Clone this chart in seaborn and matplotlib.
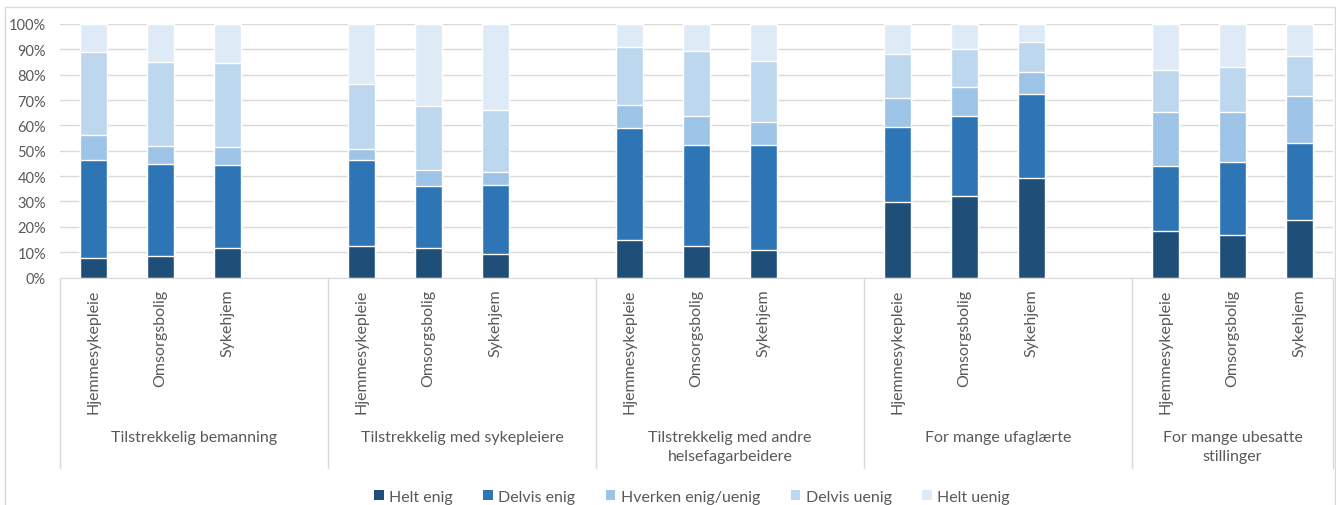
import matplotlib
matplotlib.use("Agg")
import matplotlib.pyplot as plt
import matplotlib.transforms as mtransforms
from matplotlib.patches import Patch, Rectangle
import seaborn as sns
import pandas as pd
import numpy as np

# Data (percent)
groups = ["Tilstrekkelig bemanning", "Tilstrekkelig med sykepleiere",
          "Tilstrekkelig med andre\nhelsefagarbeidere", "For mange ufaglærte",
          "For mange ubesatte\nstillinger"]
services = ["Hjemmesykepleie", "Omsorgsbolig", "Sykehjem"]
responses = ["Helt enig", "Delvis enig", "Hverken enig/uenig", "Delvis uenig", "Helt uenig"]

helt_enig = [7.5, 8.3, 11.8, 12.4, 11.6, 9.1, 14.6, 12.4, 10.8, 29.8, 32.2, 39.3, 18.2, 16.7, 22.5]
delvis_enig = [38.8, 36.6, 32.4, 33.9, 24.4, 27.2, 44.2, 39.7, 41.3, 29.7, 31.6, 32.9, 25.7, 28.8, 30.4]
hverken = [9.9, 6.9, 7.4, 4.3, 6.6, 5.2, 9.3, 11.7, 9.1, 11.3, 11.5, 9.0, 21.2, 19.6, 18.8]
delvis_uenig = [32.6, 33.2, 33.1, 25.7, 25.0, 24.5, 22.9, 25.7, 24.1, 17.4, 14.8, 11.6, 16.7, 17.8, 15.5]
helt_uenig = [11.2, 15.0, 15.3, 23.7, 32.4, 34.0, 9.0, 10.5, 14.7, 11.8, 9.9, 7.2, 18.2, 17.1, 12.8]

colors = ["#1f4e79", "#2e75b6", "#9dc3e6", "#bdd7ee", "#deebf7"]
text_color = "#595959"
line_color = "#d9d9d9"

# Build dataframe with cumulative values for stacking
keys = [f"{g}|{s}" for g in range(len(groups)) for s in services]
vals = np.array([helt_enig, delvis_enig, hverken, delvis_uenig, helt_uenig])
vals = vals / vals.sum(axis=0) * 100
cum = np.cumsum(vals, axis=0)
df = pd.DataFrame({"key": keys})
for i, r in enumerate(responses):
    df[r] = cum[i]

# order with an empty slot between groups (none after the last one)
order = []
tick_labels = []
for g in range(len(groups)):
    for s in services:
        order.append(f"{g}|{s}")
        tick_labels.append(s)
    if g < len(groups) - 1:
        order.append(f"{g}|")
        tick_labels.append("")

sns.set_style("white")
plt.rcParams["font.family"] = ["Lato", "DejaVu Sans"]

fig = plt.figure(figsize=(13.36, 5.06), dpi=100)
ax = fig.add_axes([60 / 1336, 1 - 278.5 / 506, 1273 / 1336, 253.5 / 506])

# draw from the top of the stack down so lower segments sit on top
for i in range(len(responses) - 1, -1, -1):
    sns.barplot(data=df, x="key", y=responses[i], order=order, color=colors[i],
                width=0.4, saturation=1, ax=ax, zorder=2)

ax.set_ylim(0, 100)
ax.set_xlim(-0.5, len(order) - 0.5)
ax.set_yticks(range(0, 101, 10))
ax.set_yticklabels([f"{v}%" for v in range(0, 101, 10)])
ax.yaxis.grid(True, color=line_color, lw=1, zorder=0)
ax.set_axisbelow(True)
ax.set_xlabel("")
ax.set_ylabel("")
for sp in ["top", "right", "left"]:
    ax.spines[sp].set_visible(False)
ax.spines["bottom"].set_color(line_color)
ax.tick_params(axis="y", length=0, pad=10, labelsize=10.5, labelcolor=text_color)
ax.set_xticks(range(len(order)))
ax.set_xticklabels(tick_labels, rotation=90, fontsize=11.5, color=text_color)
ax.tick_params(axis="x", length=0, pad=8)

# group separators and labels below the axis
trans = mtransforms.blended_transform_factory(ax.transData, ax.transAxes)
sep_bottom = -(469 - 278.5) / 253.5
bounds = [4 * g - 0.5 for g in range(len(groups))] + [len(order) - 0.5]
for b in bounds:
    ax.plot([b, b], [0, sep_bottom], color=line_color, lw=1,
            transform=trans, clip_on=False)
for g, name in enumerate(groups):
    center = (bounds[g] + bounds[g + 1]) / 2
    ax.text(center, -(431 - 278.5) / 253.5, name, transform=trans,
            ha="center", va="top", fontsize=11.5, color=text_color, linespacing=1.45)

# outer frame
fig.patches.append(Rectangle((5 / 1336, -0.1), 1330 / 1336, 1.1 - 8 / 506,
                             transform=fig.transFigure, fill=False,
                             edgecolor=line_color, lw=1))

handles = [Patch(facecolor=c, edgecolor="none") for c in colors]
fig.legend(handles, responses, loc="center", bbox_to_anchor=(0.518, 1 - 498 / 506),
           ncol=5, frameon=False, fontsize=11.5, handlelength=0.6, handleheight=0.6,
           handletextpad=0.35, columnspacing=1.9, labelcolor=text_color)

fig.savefig("out.png", dpi=100)
